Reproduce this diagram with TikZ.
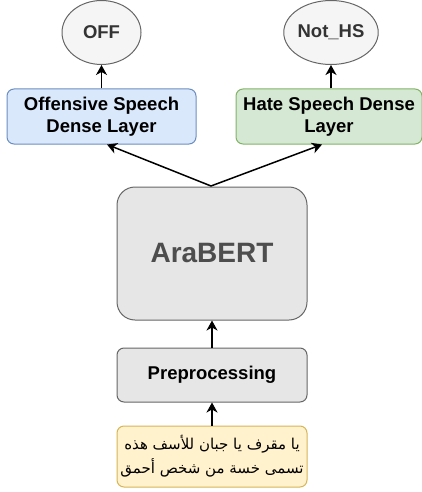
\documentclass[tikz,border=0pt]{standalone}
\usepackage{fontspec}
\setmainfont{Liberation Sans}
\newfontfamily\arabicfont[Script=Arabic]{DejaVu Sans}
\TeXXeTstate=1
\usetikzlibrary{arrows.meta, shapes.geometric}
\definecolor{grayline}{HTML}{666666}
\definecolor{grayfill}{HTML}{E6E6E6}
\definecolor{outfill}{HTML}{F5F5F5}
\definecolor{outtext}{HTML}{333333}
\definecolor{bluefill}{HTML}{DAE8FC}
\definecolor{blueline}{HTML}{6C8EBF}
\definecolor{greenfill}{HTML}{D5E8D4}
\definecolor{greenline}{HTML}{82B366}
\definecolor{yellowfill}{HTML}{FFF2CC}
\definecolor{yellowline}{HTML}{D6B656}
\definecolor{bertext}{HTML}{4D4D4D}

\begin{document}
\begin{tikzpicture}
[x=1pt, y=-1pt, >={Stealth[length=10pt, width=11pt, inset=3pt]}, line width=1pt,
 box/.style={draw, rounded corners=7pt, inner sep=0, align=center, font=\bfseries\fontsize{18.5}{22}\selectfont},
 outnode/.style={ellipse, draw=grayline, fill=outfill, text=outtext, inner sep=0, font=\bfseries\fontsize{18.5}{22}\selectfont},
 flow/.style={->, line width=1.5pt}]
\useasboundingbox (0, 0) rectangle (422, 492);
\node (off) [outnode, minimum width=79pt, minimum height=64pt] at (101.5, 32.5) {OFF};
\node (nhs) [outnode, minimum width=81pt, minimum height=64pt] at (331, 32.5) {Not\_HS};
\node (offlayer) [box, draw=blueline, fill=bluefill, minimum width=189pt, minimum height=55pt] at (101.5, 116.5) {Offensive Speech\\Dense Layer};
\node (hslayer) [box, draw=greenline, fill=greenfill, minimum width=186pt, minimum height=55pt] at (329, 116.5) {Hate Speech Dense\\Layer};
\node (bert) [box, draw=grayline, fill=grayfill, rounded corners=18pt, minimum width=190pt, minimum height=133pt, text=bertext, font=\bfseries\fontsize{28}{32}\selectfont] at (212, 253.5) {AraBERT};
\node (prep) [box, draw=grayline, fill=grayfill, minimum width=190pt, minimum height=54pt] at (212, 375) {Preprocessing};
\node (tweet) [box, draw=yellowline, fill=yellowfill, minimum width=190pt, minimum height=61pt, font=\arabicfont\fontsize{15}{24}\selectfont] at (212, 456.5) {\beginR يا مقرف يا جبان للأسف هذه\endR\\\beginR تسمى خسة من شخص أحمق\endR};
\coordinate (split) at (211, 186);
\draw [flow] (tweet) -- (prep);
\draw [flow] (prep) -- (bert);
\draw [flow] (split) -- ([xshift=5.5pt]offlayer.south);
\draw [flow] (split) -- ([xshift=-7pt]hslayer.south);
\draw [flow] (offlayer) -- (off);
\draw [flow] (hslayer.north -| nhs) -- (nhs);
\end{tikzpicture}
\end{document}
